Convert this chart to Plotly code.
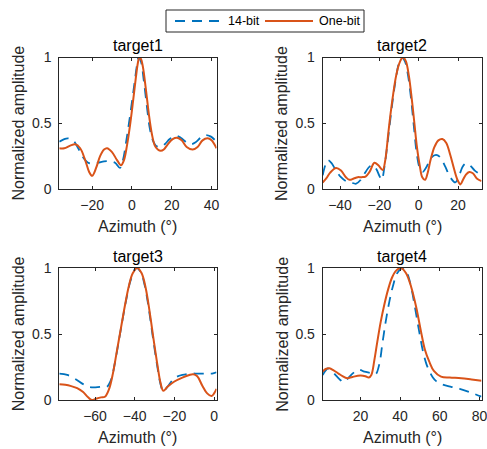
import plotly.graph_objects as go

# ---- data: normalized beam patterns (azimuth in degrees) ----
t1_x_14 = [-36.5, -34, -32, -29.5, -27, -24.5, -22, -20, -17, -14, -11, -8.5, -6, -4.5, -3, -1.5, 0,
           1.5, 2.5, 3.3, 4.5, 6, 7.5, 9, 10.5, 12, 14.3, 16.5, 19, 21.9, 24.5, 27, 29.4, 32, 34.5,
           37, 39.5, 42.5]
t1_y_14 = [0.36, 0.38, 0.385, 0.37, 0.31, 0.24, 0.20, 0.195, 0.20, 0.21, 0.21, 0.20, 0.16, 0.22, 0.35,
           0.50, 0.66, 0.83, 0.94, 1.0, 0.97, 0.82, 0.63, 0.46, 0.37, 0.33, 0.32, 0.34, 0.38, 0.405,
           0.39, 0.36, 0.34, 0.355, 0.39, 0.41, 0.40, 0.36]
t1_x_1b = [-36.5, -34, -31, -28.5, -26, -23.5, -21.5, -20, -18, -16, -14, -12.5, -10, -7.5, -5.5, -4,
           -2.5, -1, 0.5, 2, 3, 3.7, 4.5, 5.5, 7, 8.5, 10, 11.5, 13, 14.5, 16, 18, 20.5, 22.7, 25,
           27.5, 30.5, 33, 35.5, 38, 40, 42.5]
t1_y_1b = [0.31, 0.31, 0.33, 0.34, 0.31, 0.22, 0.13, 0.10, 0.16, 0.25, 0.30, 0.31, 0.28, 0.22, 0.18,
           0.22, 0.33, 0.48, 0.66, 0.85, 0.96, 1.0, 0.99, 0.93, 0.76, 0.57, 0.42, 0.33, 0.30, 0.29,
           0.30, 0.34, 0.38, 0.39, 0.37, 0.32, 0.30, 0.32, 0.37, 0.385, 0.37, 0.31]

t2_x_14 = [-48.8, -47.5, -46.2, -44.5, -42, -39.5, -37, -34.5, -31.8, -29.5, -27, -25, -23.3, -21.5,
           -20, -18.8, -17.5, -16, -14.5, -13, -11.5, -10, -8.4, -7, -5.5, -4, -2.5, -1, 0.5, 2, 4,
           6.5, 8.8, 11, 13.5, 16, 18.6, 20.5, 22.3, 24, 26, 28.5, 31.9]
t2_y_14 = [0.105, 0.18, 0.22, 0.20, 0.14, 0.09, 0.06, 0.05, 0.04, 0.07, 0.13, 0.17, 0.18, 0.15, 0.10,
           0.07, 0.16, 0.33, 0.52, 0.70, 0.85, 0.96, 1.0, 0.97, 0.87, 0.70, 0.48, 0.27, 0.16, 0.13,
           0.17, 0.24, 0.26, 0.24, 0.17, 0.09, 0.05, 0.10, 0.17, 0.195, 0.18, 0.14, 0.105]
t2_x_1b = [-48.8, -47, -45, -42, -39.5, -37, -35.2, -33, -31, -29, -27, -25, -22.5, -20.5, -18.3, -17,
           -15.5, -14.5, -13, -11.5, -10, -8.8, -7.8, -6.5, -5, -3.5, -2.2, -1, 0.5, 1.8, 3.2, 4.5,
           6, 8, 10, 12, 14, 16, 18, 19.7, 21.2, 22.5, 24, 25.7, 27.5, 29.5, 31.9]
t2_y_1b = [0.05, 0.08, 0.125, 0.16, 0.14, 0.09, 0.07, 0.08, 0.09, 0.09, 0.095, 0.13, 0.20, 0.18, 0.145,
           0.22, 0.42, 0.55, 0.72, 0.86, 0.95, 0.99, 1.0, 0.97, 0.86, 0.68, 0.50, 0.33, 0.18, 0.09,
           0.07, 0.12, 0.22, 0.32, 0.37, 0.38, 0.35, 0.26, 0.15, 0.07, 0.035, 0.07, 0.11, 0.13, 0.12,
           0.08, 0.06]

t3_x_14 = [-78, -74, -70, -66, -63, -60.8, -57, -54, -52, -50, -48, -46, -44, -42, -39.3, -37, -35,
           -33, -31, -29, -27, -25.6, -23.5, -21, -18.9, -16, -12, -8, -4, -1, 1.2]
t3_y_14 = [0.20, 0.19, 0.16, 0.12, 0.10, 0.095, 0.10, 0.10, 0.15, 0.28, 0.45, 0.62, 0.78, 0.91, 1.0,
           0.97, 0.87, 0.70, 0.49, 0.29, 0.12, 0.065, 0.10, 0.15, 0.175, 0.19, 0.20, 0.20, 0.20, 0.20,
           0.21]
t3_x_1b = [-78, -75, -72, -69, -66, -63.5, -61.6, -59.5, -57, -55, -53, -51, -49, -47, -45, -43, -41,
           -38.7, -36.5, -34.5, -32.5, -30.5, -28.5, -27, -25.6, -23.5, -20, -16, -12.5, -10.5, -8.5,
           -6, -3.5, -1.3, 0, 1.2]
t3_y_1b = [0.12, 0.115, 0.105, 0.09, 0.06, 0.02, 0.0, 0.01, 0.02, 0.025, 0.08, 0.20, 0.37, 0.54, 0.71,
           0.86, 0.96, 1.0, 0.96, 0.85, 0.67, 0.46, 0.26, 0.13, 0.07, 0.10, 0.14, 0.17, 0.19, 0.195,
           0.18, 0.11, 0.05, 0.03, 0.05, 0.085]

t4_x_14 = [1, 2.3, 3.6, 5.5, 8, 10, 11.5, 13.5, 16, 19.1, 22, 25, 27.6, 29.5, 31, 32.7, 34.5, 36.5,
           38.5, 41.2, 43.5, 45.5, 47.5, 49.6, 51.5, 53.3, 54.7, 56.5, 58, 61, 65.7, 70, 75, 81]
t4_y_14 = [0.19, 0.22, 0.24, 0.22, 0.18, 0.15, 0.135, 0.16, 0.20, 0.23, 0.215, 0.205, 0.195, 0.27,
           0.42, 0.59, 0.74, 0.87, 0.96, 1.0, 0.96, 0.86, 0.70, 0.52, 0.37, 0.27, 0.22, 0.17, 0.145,
           0.12, 0.10, 0.085, 0.06, 0.025]
t4_x_1b = [1, 2.5, 4.4, 6.5, 9, 11, 13.3, 16, 20, 22.5, 24.2, 25.5, 27, 28.5, 30.2, 32, 34, 36, 38,
           40.5, 43, 45.5, 48, 50.5, 52.5, 54.7, 57, 60.6, 65, 70.8, 76, 81]
t4_y_1b = [0.215, 0.235, 0.24, 0.225, 0.20, 0.18, 0.165, 0.175, 0.185, 0.18, 0.17, 0.19, 0.30, 0.44,
           0.59, 0.72, 0.84, 0.93, 0.98, 1.0, 0.96, 0.86, 0.71, 0.52, 0.38, 0.29, 0.22, 0.177, 0.17,
           0.165, 0.155, 0.145]

titles = ["target1", "target2", "target3", "target4"]
series_names = ["14-bit", "One-bit"]
x_ranges = [[-36.5, 42.5], [-48.8, 31.9], [-78, 1.2], [1, 81]]
x_ticks = [[-20, 0, 20, 40], [-40, -20, 0, 20], [-60, -40, -20, 0], [20, 40, 60, 80]]
y_ticks = [0, 0.5, 1]
y_tick_text = ["0", "0.5", "1"]

series = [
    (t1_x_14, t1_y_14, t1_x_1b, t1_y_1b),
    (t2_x_14, t2_y_14, t2_x_1b, t2_y_1b),
    (t3_x_14, t3_y_14, t3_x_1b, t3_y_1b),
    (t4_x_14, t4_y_14, t4_x_1b, t4_y_1b),
]

W, H = 487, 449
BLUE = "#0072BD"
ORANGE = "#D95319"
AXC = "#262626"
FONT = "Liberation Sans, Arial, sans-serif"
DASH = "10px,7px"

# pixel boxes of each axes: (left, right, top, bottom)
boxes = [(59.3, 216.5, 57.5, 189.0), (322.7, 481.5, 57.5, 189.0),
         (59.3, 216.5, 268.0, 400.0), (322.7, 481.5, 268.0, 400.0)]


def px(x):
    return x / W


def py(y):
    return 1 - y / H


fig = go.Figure()
layout = dict(
    width=W, height=H, margin=dict(l=0, r=0, t=0, b=0, autoexpand=False),
    paper_bgcolor="white", plot_bgcolor="white",
    font=dict(family=FONT, size=14, color=AXC),
    showlegend=False,
)
annotations = []
shapes = []

for i, (xa, ya, xb, yb) in enumerate(series):
    n = "" if i == 0 else str(i + 1)
    l, r, t, b = boxes[i]
    axis_common = dict(showline=True, linecolor=AXC, linewidth=1, mirror="ticks",
                       ticks="inside", ticklen=3, tickwidth=1, tickcolor=AXC,
                       showgrid=False, zeroline=False, tickfont=dict(size=14, color=AXC),
                       ticklabeloverflow="allow")
    layout["xaxis" + n] = dict(domain=[px(l), px(r)], range=x_ranges[i], tickvals=x_ticks[i],
                               anchor="y" + n, ticklabelstandoff=3, **axis_common)
    layout["yaxis" + n] = dict(domain=[py(b), py(t)], range=[0, 1], tickvals=y_ticks,
                               ticktext=y_tick_text, anchor="x" + n, ticklabelstandoff=4,
                               **axis_common)
    fig.add_trace(go.Scatter(x=xa, y=ya, mode="lines", name=series_names[0],
                             line=dict(color=BLUE, width=1.8, dash=DASH, shape="spline", smoothing=1),
                             xaxis="x" + n, yaxis="y" + n))
    fig.add_trace(go.Scatter(x=xb, y=yb, mode="lines", name=series_names[1],
                             line=dict(color=ORANGE, width=2, shape="spline", smoothing=1),
                             xaxis="x" + n, yaxis="y" + n))
    cx = px((l + r) / 2)
    # subplot title
    annotations.append(dict(text=titles[i], x=cx, y=py(t - 12), xref="paper", yref="paper",
                            xanchor="center", yanchor="middle", showarrow=False,
                            font=dict(size=16, color="black", family=FONT)))
    # x-axis label
    annotations.append(dict(text="Azimuth (°)", x=cx, y=py(b + 37),
                            xref="paper", yref="paper", xanchor="center", yanchor="middle",
                            showarrow=False, font=dict(size=16, color=AXC, family=FONT)))
    # y-axis label
    annotations.append(dict(text="Normalized amplitude", x=px(l - 41), y=py((t + b) / 2),
                            xref="paper", yref="paper", xanchor="center", yanchor="middle",
                            textangle=-90, showarrow=False,
                            font=dict(size=16, color=AXC, family=FONT)))

# shared legend above the panels
shapes.append(dict(type="rect", xref="paper", yref="paper", x0=px(166), x1=px(364),
                   y0=py(32), y1=py(10), line=dict(color=AXC, width=1), fillcolor="white"))
shapes.append(dict(type="line", xref="paper", yref="paper", x0=px(175), x1=px(222),
                   y0=py(21), y1=py(21), line=dict(color=BLUE, width=1.8, dash=DASH)))
shapes.append(dict(type="line", xref="paper", yref="paper", x0=px(265), x1=px(313),
                   y0=py(21), y1=py(21), line=dict(color=ORANGE, width=2)))
annotations.append(dict(text=series_names[0], x=px(226), y=py(21), xref="paper", yref="paper",
                        xanchor="left", yanchor="middle", showarrow=False,
                        font=dict(size=12.5, color="black", family=FONT)))
annotations.append(dict(text=series_names[1], x=px(317), y=py(21), xref="paper", yref="paper",
                        xanchor="left", yanchor="middle", showarrow=False,
                        font=dict(size=12.5, color="black", family=FONT)))

layout["annotations"] = annotations
layout["shapes"] = shapes
fig.update_layout(**layout)
fig.write_html("out.html")
